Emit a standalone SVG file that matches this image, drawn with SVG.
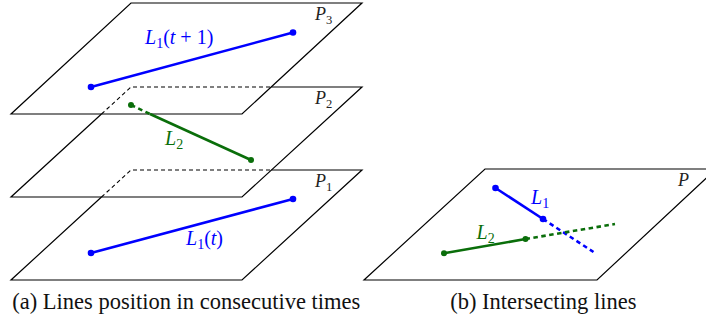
<svg xmlns="http://www.w3.org/2000/svg" width="706" height="324" viewBox="0 0 706 324">
<style>
.edge{stroke:#000;stroke-width:1.2;fill:none}
.hid{stroke:#000;stroke-width:1.1;fill:none;stroke-dasharray:4 3}
.blue{stroke:#0000ff;stroke-width:2.6;fill:none}
.green{stroke:#0a6e0a;stroke-width:2.6;fill:none}
.bd{stroke-dasharray:4.5 3.5}
.bdot{fill:#0000ff}
.gdot{fill:#0a6e0a}
.m{font-size:20px}
.pl{font-size:18px;fill:#222}
.it{font-style:italic}
.sub{font-size:70%}
.cap{font-size:22.5px;fill:#111;text-anchor:middle}
</style>
<rect width="706" height="324" fill="#fff"/>
<g font-family="Liberation Serif, DejaVu Serif, serif">
<g id="P1">
<path class="edge" d="M271.5,170 H362 L242,280 H11 L101.5,197"/>
<path class="hid" d="M101.5,197 L131,170 H271.5"/>
<text class="pl" x="315" y="187"><tspan class="it">P</tspan><tspan class="sub" dy="4">1</tspan></text>
</g>
<g id="P2">
<path class="edge" d="M271.5,87 H362 L242,197 H11 L101.5,114"/>
<path class="hid" d="M101.5,114 L131,87 H271.5"/>
<text class="pl" x="315" y="104"><tspan class="it">P</tspan><tspan class="sub" dy="4">2</tspan></text>
</g>
<g id="P3">
<path class="edge" d="M131,3 H362 L242,114 H11 Z"/>
<text class="pl" x="315" y="20"><tspan class="it">P</tspan><tspan class="sub" dy="4">3</tspan></text>
</g>
<g id="P">
<path class="edge" d="M485,169 H716 L597,280 H364 Z"/>
<text class="pl" x="678" y="186"><tspan class="it">P</tspan></text>
</g>
<g id="connectors">
<g id="L1t1">
<line class="blue" x1="91" y1="87" x2="293" y2="32.5"/>
<circle class="bdot" cx="91" cy="87" r="3.3"/>
<circle class="bdot" cx="293" cy="32.5" r="3.3"/>
</g>
<g id="L2a">
<line class="green bd" x1="131" y1="105" x2="150" y2="114"/>
<line class="green" x1="150" y1="114" x2="251" y2="160"/>
<circle class="gdot" cx="131" cy="105" r="3"/>
<circle class="gdot" cx="251" cy="160" r="3"/>
</g>
<g id="L1t">
<line class="blue" x1="91" y1="253" x2="293" y2="199"/>
<circle class="bdot" cx="91" cy="253" r="3.3"/>
<circle class="bdot" cx="293" cy="199" r="3.3"/>
</g>
<g id="L1b">
<line class="blue" x1="495.5" y1="188" x2="543" y2="219"/>
<line class="blue bd" x1="543" y1="219" x2="593.5" y2="252"/>
<circle class="bdot" cx="495.5" cy="188" r="3.3"/>
<circle class="bdot" cx="543" cy="219" r="3.3"/>
</g>
<g id="L2b">
<line class="green" x1="444" y1="253.3" x2="525.5" y2="239"/>
<line class="green bd" x1="525.5" y1="239" x2="615" y2="224"/>
<circle class="gdot" cx="444" cy="253.3" r="3"/>
<circle class="gdot" cx="525.5" cy="239" r="3"/>
</g>
</g>
<g id="labels">
<text class="m" x="145" y="44" fill="#0000ff"><tspan class="it">L</tspan><tspan class="sub" dy="4">1</tspan><tspan dy="-4">(</tspan><tspan class="it">t</tspan><tspan> + 1)</tspan></text>
<text class="m" x="165" y="145" fill="#0a6e0a"><tspan class="it">L</tspan><tspan class="sub" dy="4">2</tspan></text>
<text class="m" x="186" y="245" fill="#0000ff"><tspan class="it">L</tspan><tspan class="sub" dy="4">1</tspan><tspan dy="-4">(</tspan><tspan class="it">t</tspan><tspan>)</tspan></text>
<text class="m" x="531" y="204" fill="#0000ff"><tspan class="it">L</tspan><tspan class="sub" dy="4">1</tspan></text>
<text class="m" x="476.5" y="238.5" fill="#0a6e0a"><tspan class="it">L</tspan><tspan class="sub" dy="4">2</tspan></text>
</g>
<text class="cap" x="186.3" y="309">(a) Lines position in consecutive times</text>
<text class="cap" x="543.3" y="309">(b) Intersecting lines</text>
</g>
</svg>
